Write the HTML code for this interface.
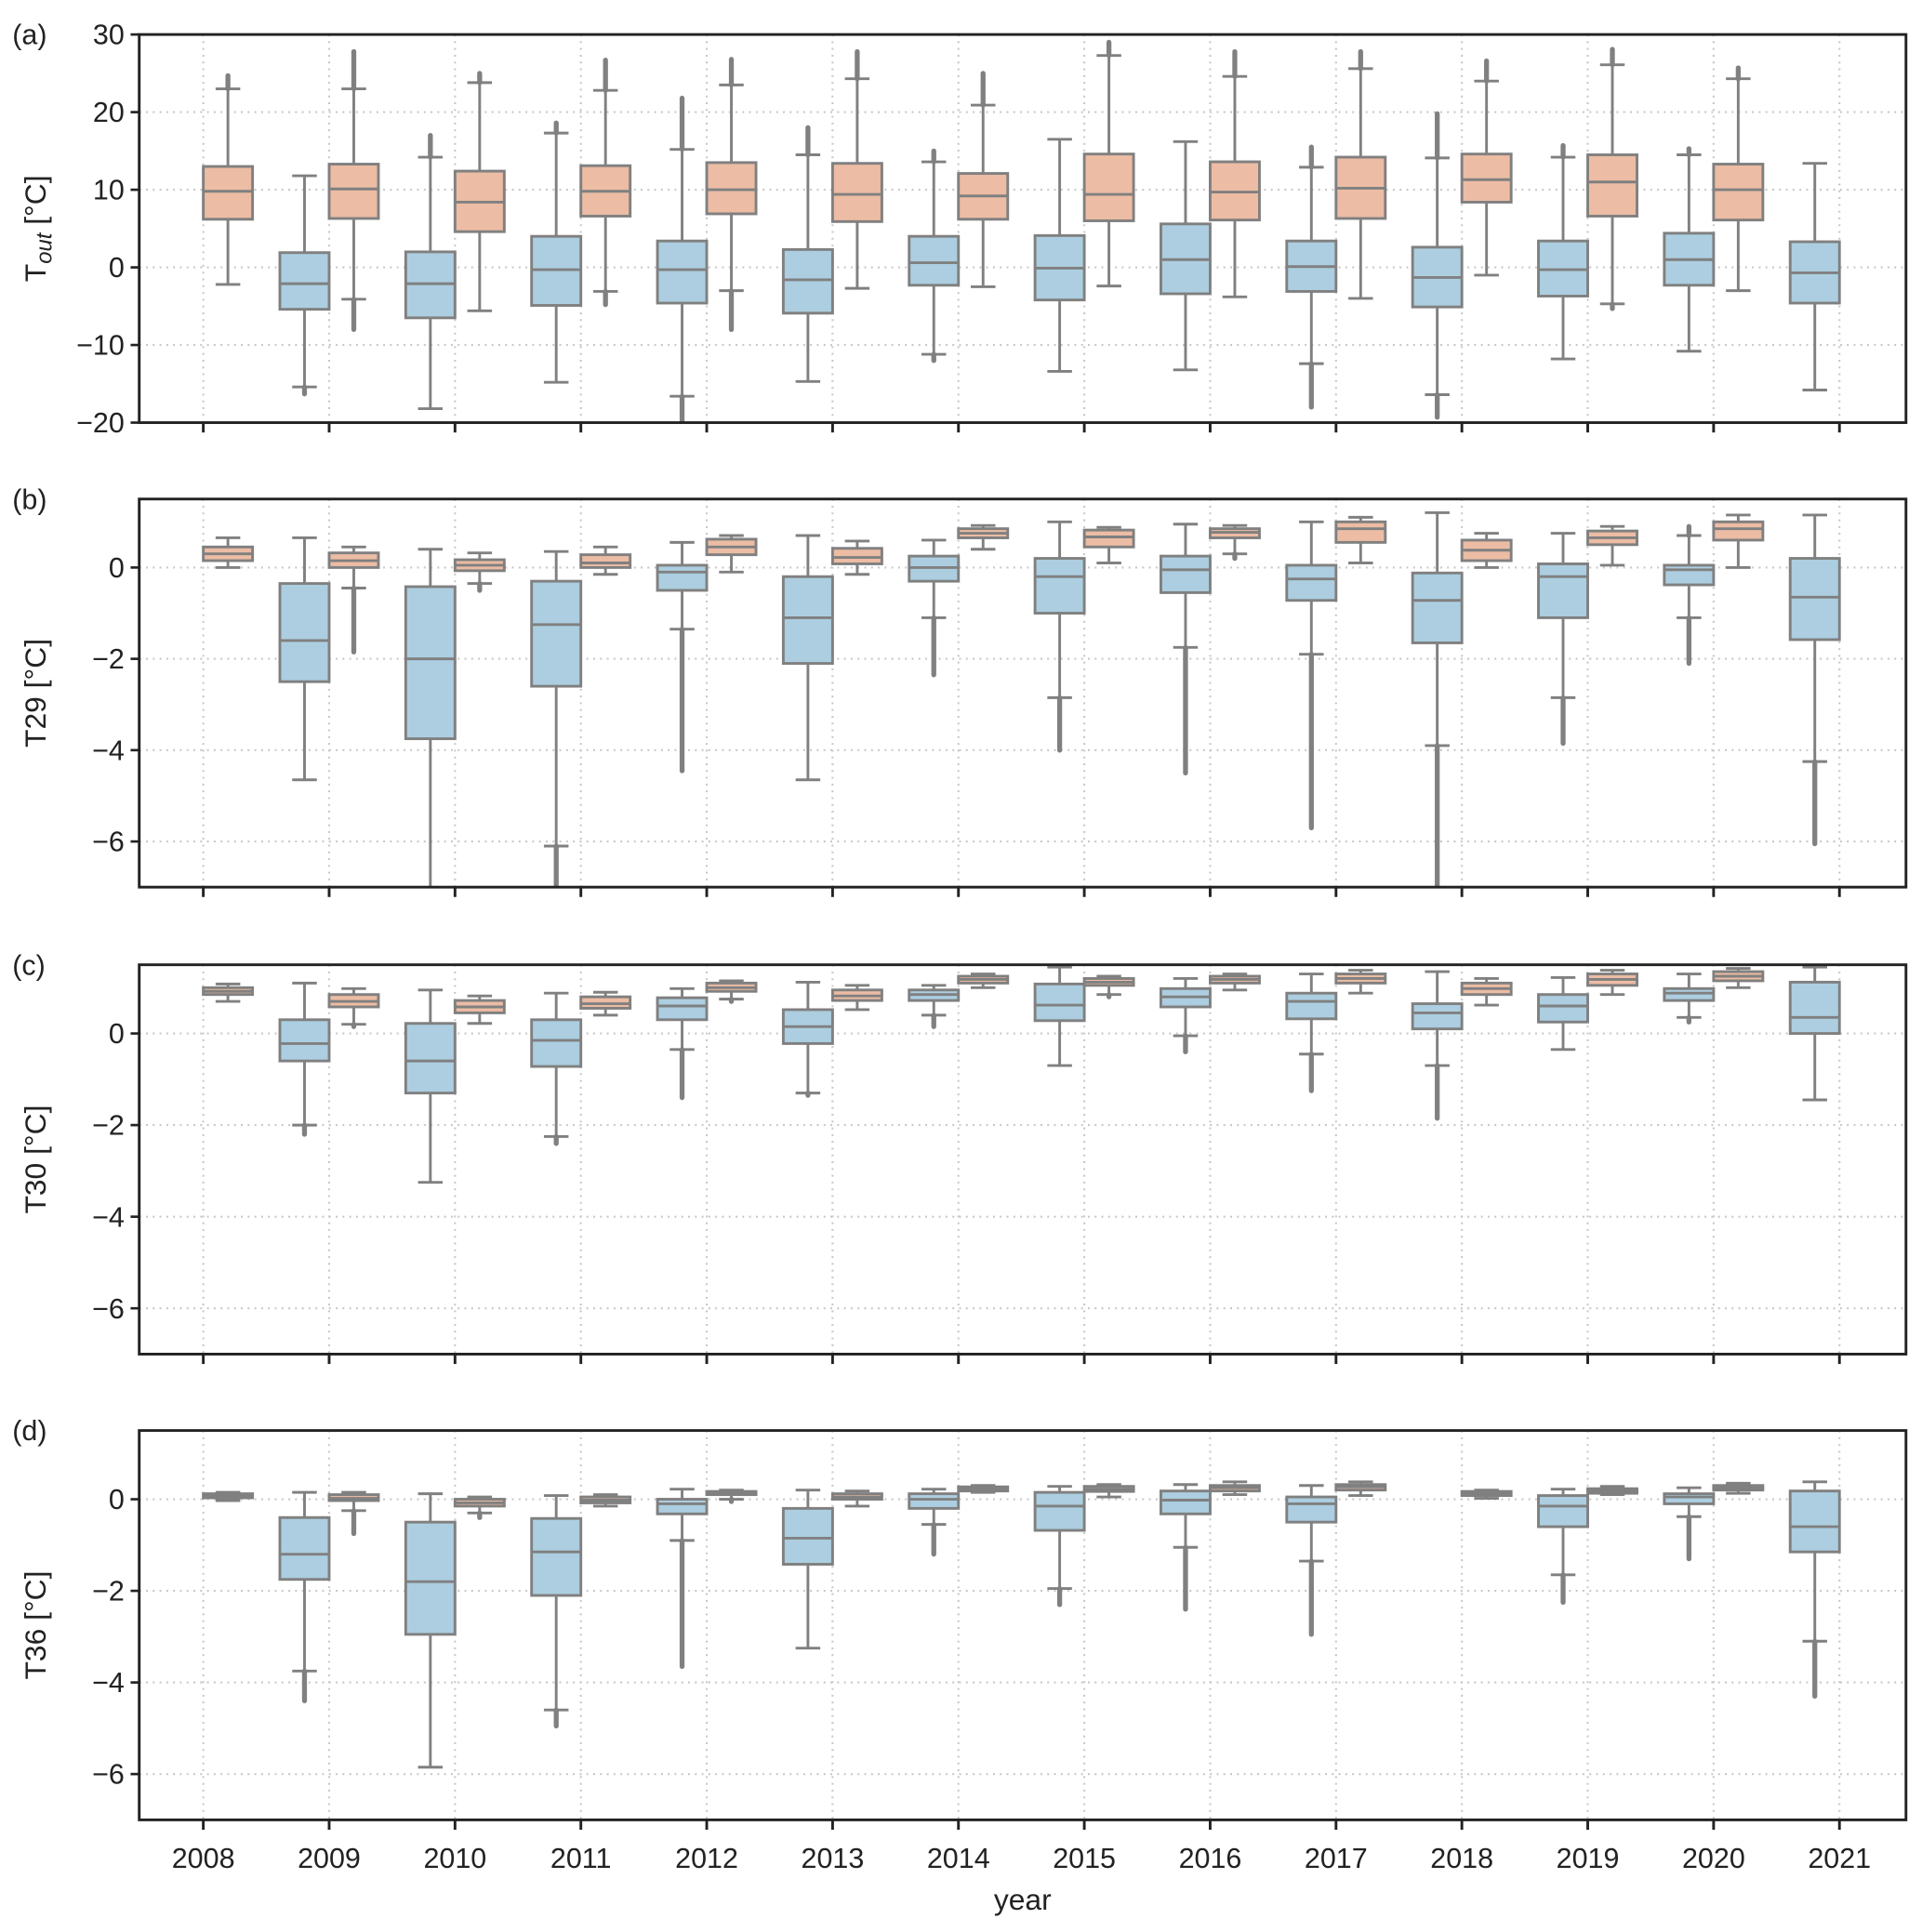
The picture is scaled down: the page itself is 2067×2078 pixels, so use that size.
<!DOCTYPE html>
<html><head><meta charset="utf-8"><style>
html,body{margin:0;padding:0;background:#fff;}
svg{display:block;}
text{font-family:"Liberation Sans",Arial,sans-serif;fill:#222;}
</style></head><body>
<svg id="chart" xmlns="http://www.w3.org/2000/svg" width="2067" height="2078" viewBox="0 0 1560 1568" preserveAspectRatio="none"></svg>
<script>
// rows: [q1, median, q3, whiskerLow, whiskerHigh, outlierLow, outlierHigh]
const years = [2008,2009,2010,2011,2012,2013,2014,2015,2016,2017,2018,2019,2020,2021];
const aOrange = [[6.2,9.8,13,-2.2,23,null,24.7],[6.3,10.1,13.3,-4.1,23,-8,27.8],[4.6,8.4,12.4,-5.6,23.8,null,25],[6.6,9.8,13.1,-3.1,22.8,-4.8,26.7],[6.9,10,13.5,-3,23.5,-8,26.8],[5.9,9.4,13.4,-2.7,24.3,null,27.8],[6.2,9.2,12.1,-2.5,20.9,null,25],[6,9.4,14.6,-2.4,27.3,null,29],[6.1,9.7,13.6,-3.8,24.6,null,27.8],[6.3,10.2,14.2,-4,25.6,null,27.8],[8.4,11.3,14.6,-1,24,null,26.6],[6.6,11,14.5,-4.7,26.1,-5.3,28.1],[6.1,10,13.3,-3,24.3,null,25.7],null];
const aBlue = [null,[-5.4,-2.1,1.9,-15.4,11.8,-16.3,null],[-6.5,-2.1,2,-18.2,14.2,null,17],[-4.9,-0.3,4,-14.8,17.3,null,18.6],[-4.6,-0.3,3.4,-16.6,15.2,-20,21.8],[-5.9,-1.6,2.3,-14.7,14.5,null,18],[-2.3,0.6,4,-11.2,13.6,-12,15],[-4.2,-0.1,4.1,-13.4,16.5,null,null],[-3.4,1,5.6,-13.2,16.2,null,null],[-3.1,0.1,3.4,-12.4,12.9,-18,15.5],[-5.1,-1.3,2.6,-16.4,14.1,-19.3,19.8],[-3.7,-0.3,3.4,-11.8,14.2,null,15.7],[-2.3,1,4.4,-10.8,14.5,null,15.3],[-4.6,-0.7,3.3,-15.8,13.4,null,null]];
const bOrange = [[0.15,0.3,0.45,0,0.65,null,null],[0,0.15,0.32,-0.45,0.45,-1.85,null],[-0.07,0.05,0.17,-0.35,0.32,-0.5,null],[0,0.1,0.28,-0.15,0.45,null,null],[0.28,0.45,0.62,-0.1,0.7,null,null],[0.08,0.22,0.42,-0.15,0.58,null,null],[0.65,0.75,0.85,0.4,0.92,null,null],[0.45,0.67,0.82,0.1,0.88,null,null],[0.65,0.77,0.85,0.3,0.92,0.2,null],[0.55,0.85,1,0.1,1.1,null,null],[0.15,0.38,0.6,0,0.75,null,null],[0.5,0.65,0.8,0.05,0.9,null,null],[0.6,0.85,1,0,1.15,null,null],null];
const bBlue = [null,[-2.5,-1.6,-0.35,-4.65,0.65,null,null],[-3.75,-2,-0.42,-7.5,0.4,null,null],[-2.6,-1.25,-0.3,-6.1,0.35,-7.2,null],[-0.5,-0.1,0.05,-1.35,0.55,-4.45,null],[-2.1,-1.1,-0.2,-4.65,0.7,null,null],[-0.3,0,0.25,-1.1,0.6,-2.35,null],[-1,-0.2,0.2,-2.85,1,-4,null],[-0.55,-0.05,0.25,-1.75,0.95,-4.5,null],[-0.72,-0.25,0.05,-1.9,1,-5.7,null],[-1.65,-0.72,-0.12,-3.9,1.2,-7.2,null],[-1.1,-0.2,0.08,-2.85,0.75,-3.85,null],[-0.38,-0.05,0.05,-1.1,0.7,-2.1,0.9],[-1.58,-0.65,0.2,-4.25,1.15,-6.05,null]];
const cOrange = [[0.85,0.92,1,0.7,1.08,null,null],[0.58,0.7,0.85,0.2,0.98,0.15,null],[0.45,0.58,0.72,0.22,0.82,null,null],[0.55,0.65,0.8,0.4,0.9,null,null],[0.92,1,1.1,0.75,1.15,0.7,null],[0.72,0.82,0.95,0.52,1.05,null,null],[1.1,1.18,1.25,1,1.3,null,null],[1.05,1.12,1.2,0.85,1.25,0.8,null],[1.1,1.18,1.25,0.95,1.3,null,null],[1.1,1.2,1.3,0.88,1.38,null,null],[0.85,0.98,1.1,0.62,1.2,null,null],[1.05,1.18,1.3,0.85,1.38,null,null],[1.15,1.25,1.35,1,1.42,null,null],null];
const cBlue = [null,[-0.6,-0.22,0.3,-2,1.1,-2.2,null],[-1.3,-0.6,0.22,-3.25,0.95,null,null],[-0.72,-0.15,0.3,-2.25,0.88,-2.4,null],[0.3,0.6,0.78,-0.35,0.98,-1.4,null],[-0.22,0.15,0.52,-1.3,1.12,-1.35,null],[0.72,0.85,0.95,0.4,1.05,0.15,null],[0.28,0.62,1.08,-0.7,1.45,null,null],[0.58,0.8,0.98,-0.05,1.2,-0.4,null],[0.32,0.7,0.88,-0.45,1.3,-1.25,null],[0.1,0.45,0.65,-0.7,1.35,-1.85,null],[0.25,0.6,0.85,-0.35,1.22,null,null],[0.72,0.88,0.98,0.35,1.3,0.25,null],[0,0.35,1.12,-1.45,1.45,null,null]];
const dOrange = [[0.03,0.08,0.12,-0.03,0.15,null,null],[-0.03,0.02,0.1,-0.25,0.15,-0.75,null],[-0.15,-0.08,0,-0.3,0.05,-0.4,null],[-0.08,-0.02,0.05,-0.15,0.1,null,null],[0.1,0.13,0.17,0,0.2,-0.05,null],[0,0.05,0.12,-0.15,0.18,null,null],[0.18,0.22,0.27,0.15,0.3,null,null],[0.17,0.22,0.28,0.05,0.32,null,null],[0.18,0.25,0.3,0.1,0.38,null,null],[0.2,0.27,0.32,0.08,0.38,null,null],[0.08,0.12,0.17,0.02,0.2,null,null],[0.13,0.18,0.23,0.1,0.28,null,null],[0.2,0.25,0.3,0.13,0.35,null,null],null];
const dBlue = [null,[-1.75,-1.2,-0.4,-3.75,0.15,-4.4,null],[-2.95,-1.8,-0.5,-5.85,0.12,null,null],[-2.1,-1.15,-0.42,-4.6,0.08,-4.95,null],[-0.32,-0.1,0,-0.9,0.22,-3.65,null],[-1.42,-0.85,-0.2,-3.25,0.2,null,null],[-0.2,0,0.12,-0.55,0.22,-1.2,null],[-0.68,-0.15,0.15,-1.95,0.28,-2.3,null],[-0.32,-0.02,0.18,-1.05,0.32,-2.4,null],[-0.5,-0.1,0.05,-1.35,0.3,-2.95,null],null,[-0.6,-0.15,0.08,-1.65,0.22,-2.25,null],[-0.1,0.05,0.12,-0.38,0.25,-1.3,null],[-1.15,-0.6,0.18,-3.1,0.38,-4.3,null]];
const aTicks = [30,20,10,0,-10,-20];
const tTicks = [0,-2,-4,-6];

const NS='http://www.w3.org/2000/svg';
const svg=document.getElementById('chart');
function mk(tag,attrs,parent){const e=document.createElementNS(NS,tag);for(const k in attrs)e.setAttribute(k,attrs[k]);(parent||svg).appendChild(e);return e;}
const X0=113,X1=1547;
function xs(i){return 165+i*(1493-165)/13;}
const BW=40;
const panels=[
 {id:'a',top:28,bot:343,ymin:-20,ymax:30,ticks:aTicks,org:aOrange,blu:aBlue,label:'T',sub:'out'},
 {id:'b',top:405,bot:720,ymin:-7,ymax:1.5,ticks:tTicks,org:bOrange,blu:bBlue,label:'T29 [°C]'},
 {id:'c',top:783,bot:1099,ymin:-7,ymax:1.5,ticks:tTicks,org:cOrange,blu:cBlue,label:'T30 [°C]'},
 {id:'d',top:1161,bot:1477,ymin:-7,ymax:1.5,ticks:tTicks,org:dOrange,blu:dBlue,label:'T36 [°C]'}
];
panels.forEach((p,pi)=>{
 const g=mk('g',{});
 
 
 const ys=v=>p.bot-(v-p.ymin)/(p.ymax-p.ymin)*(p.bot-p.top);
 const clip=mk('clipPath',{id:'clip'+p.id},g);
 mk('rect',{x:X0,y:p.top,width:X1-X0,height:p.bot-p.top},clip);
 years.forEach((yr,i)=>{const l=mk('line',{x1:xs(i),x2:xs(i),y1:p.top,y2:p.bot,stroke:'#c8c8c8','stroke-width':1.6,'stroke-dasharray':'1.5 4'},g);
  });
 p.ticks.forEach(t=>{const y=ys(t);
  const l=mk('line',{x1:X0,x2:X1,y1:y,y2:y,stroke:'#c8c8c8','stroke-width':1.6,'stroke-dasharray':'1.5 4'},g);
  
  mk('line',{x1:X0-7,x2:X0,y1:y,y2:y,stroke:'#222','stroke-width':2},g);
  const tx=mk('text',{x:X0-12,y:y+8,'text-anchor':'end','font-size':23},g);
  tx.textContent=(t<0?'\u2212':'')+Math.abs(t);
  
 });
 const bg=mk('g',{'clip-path':'url(#clip'+p.id+')'},g);
 function box(row,cx,fill,name){
  if(!row)return;
  const [q1,md,q3,lo,hi,oL,oH]=row;
  const bx=mk('g',{},bg);
  
  
  const st={stroke:'#808080','stroke-width':2.2,fill:'none'};
  if(oL!==null) mk('line',{x1:cx,x2:cx,y1:ys(lo),y2:ys(oL),stroke:'#808080','stroke-width':4,'stroke-linecap':'round'},bx);
  if(oH!==null) mk('line',{x1:cx,x2:cx,y1:ys(hi),y2:ys(oH),stroke:'#808080','stroke-width':4,'stroke-linecap':'round'},bx);
  mk('line',Object.assign({x1:cx,x2:cx,y1:ys(q1),y2:ys(lo)},st),bx);
  mk('line',Object.assign({x1:cx,x2:cx,y1:ys(q3),y2:ys(hi)},st),bx);
  mk('line',Object.assign({x1:cx-10,x2:cx+10,y1:ys(lo),y2:ys(lo)},st),bx);
  mk('line',Object.assign({x1:cx-10,x2:cx+10,y1:ys(hi),y2:ys(hi)},st),bx);
  mk('rect',{x:cx-BW/2,y:ys(q3),width:BW,height:Math.max(ys(q1)-ys(q3),1),fill:fill,stroke:'#808080','stroke-width':2.2},bx);
  mk('line',Object.assign({x1:cx-BW/2,x2:cx+BW/2,y1:ys(md),y2:ys(md)},st),bx);
 }
 years.forEach((yr,i)=>{
  box(p.blu[i],xs(i)-BW/2,'#accee0','box-cold-'+yr);
  box(p.org[i],xs(i)+BW/2,'#ecbca4','box-warm-'+yr);
 });
 mk('rect',{x:X0,y:p.top,width:X1-X0,height:p.bot-p.top,fill:'none',stroke:'#222','stroke-width':2.2},g);
 years.forEach((yr,i)=>{mk('line',{x1:xs(i),x2:xs(i),y1:p.bot,y2:p.bot+8,stroke:'#222','stroke-width':2.2},g);
  if(pi===3){const t=mk('text',{x:xs(i),y:p.bot+39,'text-anchor':'middle','font-size':23},g);t.textContent=yr;
   }});
 const pl=mk('text',{x:10,y:p.top+8,'font-size':23},g);pl.textContent='('+p.id+')';
 
 const cy=(p.top+p.bot)/2;
 const yl=mk('text',{x:0,y:0,'font-size':24,'text-anchor':'middle',transform:'translate(37,'+cy+') rotate(-90)'},g);
 
 if(p.sub){yl.textContent='T';const s=mk('tspan',{'font-style':'italic','font-size':18,dy:5},yl);s.textContent='out';
  const r=mk('tspan',{dy:-5},yl);r.textContent=' [°C]';}
 else yl.textContent=p.label;
});
const xt=mk('text',{x:830,y:1550,'text-anchor':'middle','font-size':24});
xt.textContent='year';


</script>
</body></html>
